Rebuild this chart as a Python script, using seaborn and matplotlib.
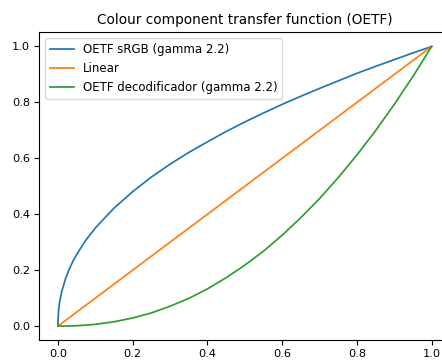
import matplotlib
matplotlib.use("Agg")
import matplotlib.pyplot as plt
import seaborn as sns

# Input signal values (x axis)
x_vals = [0.0, 0.0001, 0.0003, 0.001, 0.002, 0.003, 0.005, 0.01, 0.02, 0.03, 0.04,
          0.05, 0.075, 0.1, 0.15, 0.2, 0.25, 0.3, 0.35, 0.4, 0.45, 0.5, 0.55, 0.6,
          0.65, 0.7, 0.75, 0.8, 0.85, 0.9, 0.95, 1.0]

# OETF sRGB (gamma 2.2)
srgb_vals = [0.0, 0.015, 0.025, 0.043, 0.059, 0.071, 0.090, 0.123, 0.169, 0.203,
             0.232, 0.256, 0.308, 0.351, 0.422, 0.481, 0.533, 0.579, 0.621, 0.659,
             0.696, 0.730, 0.762, 0.793, 0.822, 0.850, 0.877, 0.904, 0.929, 0.953,
             0.977, 1.0]

# Linear
linear_vals = [0.0, 0.0001, 0.0003, 0.001, 0.002, 0.003, 0.005, 0.01, 0.02, 0.03, 0.04,
               0.05, 0.075, 0.1, 0.15, 0.2, 0.25, 0.3, 0.35, 0.4, 0.45, 0.5, 0.55, 0.6,
               0.65, 0.7, 0.75, 0.8, 0.85, 0.9, 0.95, 1.0]

# OETF decodificador (gamma 2.2)
decod_vals = [0.0, 0.0, 0.0, 0.0, 0.0, 0.0, 0.0, 0.00004, 0.0002, 0.0005, 0.0008,
              0.0014, 0.0034, 0.0063, 0.0154, 0.029, 0.047, 0.071, 0.099, 0.133,
              0.173, 0.218, 0.268, 0.325, 0.388, 0.456, 0.531, 0.612, 0.699, 0.793,
              0.893, 1.0]

labels = ["OETF sRGB (gamma 2.2)", "Linear", "OETF decodificador (gamma 2.2)"]
title = "Colour component transfer function (OETF)"

fig = plt.figure(figsize=(4.42, 3.61), dpi=100)
ax = fig.add_axes([0.0889, 0.058, 0.930, 0.852])

sns.lineplot(x=x_vals, y=srgb_vals, ax=ax, color="C0", label=labels[0], sort=False, linewidth=1.25)
sns.lineplot(x=x_vals, y=linear_vals, ax=ax, color="C1", label=labels[1], sort=False, linewidth=1.25)
sns.lineplot(x=x_vals, y=decod_vals, ax=ax, color="C2", label=labels[2], sort=False, linewidth=1.25)

ax.set_title(title, fontsize=9.8)
ax.set_xticks([0.0, 0.2, 0.4, 0.6, 0.8, 1.0])
ax.set_yticks([0.0, 0.2, 0.4, 0.6, 0.8, 1.0])
ax.tick_params(labelsize=8.2, pad=3)
ax.legend(loc="upper left", fontsize=8.5)

fig.savefig("out.png", dpi=100)
